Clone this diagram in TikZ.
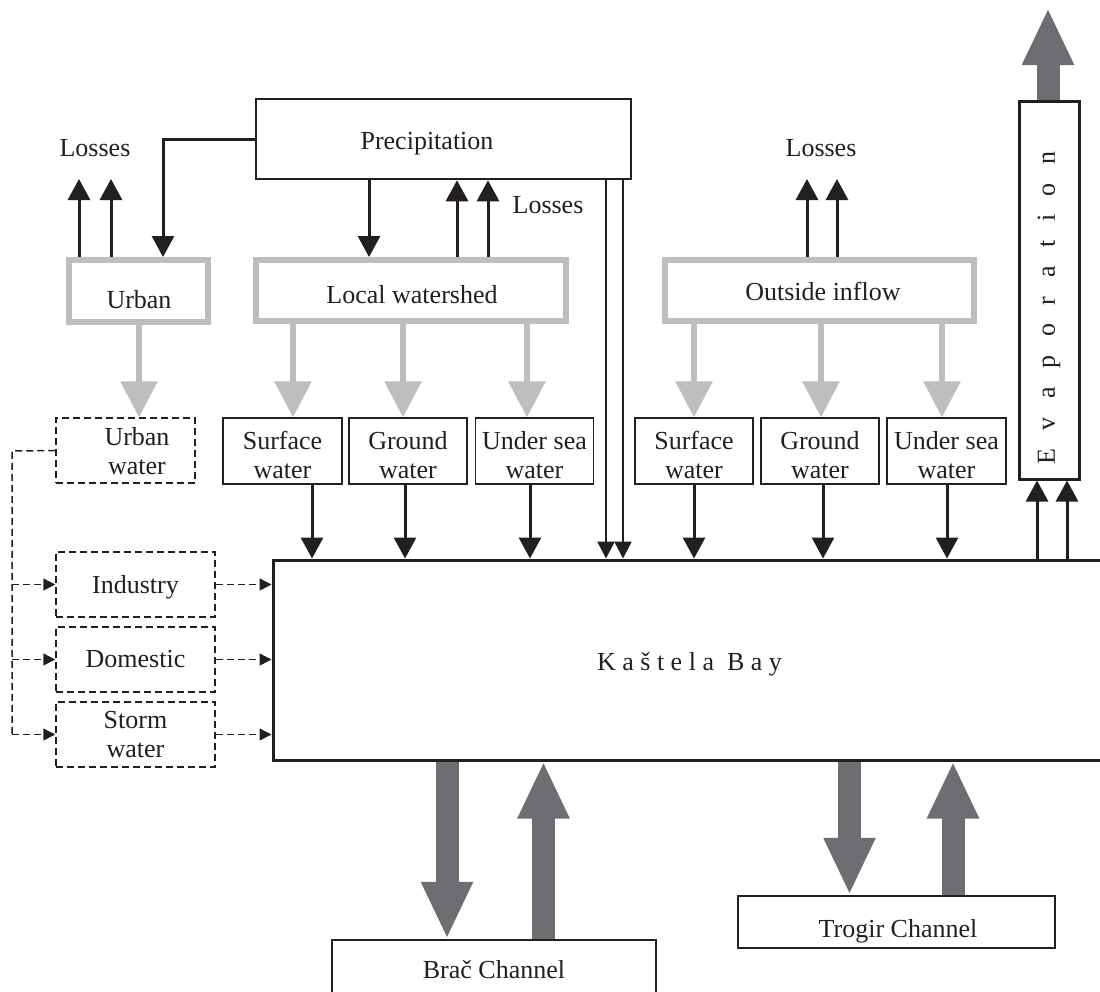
\documentclass[tikz,border=0pt]{standalone}
\usepackage{fontspec}
\setmainfont{Liberation Serif}
\usetikzlibrary{arrows.meta}
\definecolor{lgray}{HTML}{BCBEC0}
\definecolor{dgray}{HTML}{6D6E71}
\definecolor{ink}{HTML}{231F20}
\newcommand\evsp{\hspace{18.6pt}}
\newcommand\kbsp{\hspace{6.5pt}}
\begin{document}
\begin{tikzpicture}[x=1pt,y=-1pt,font=\fontsize{26}{29}\selectfont,text=ink,
  blkbox/.style={draw=ink,line width=2.5pt,inner sep=0pt,fill=white},
  graybox/.style={draw=lgray,line width=6pt,inner sep=0pt},
  thinbox/.style={draw=ink,line width=1.3pt,inner sep=0pt,align=center,minimum width=118pt,minimum height=66pt,text height=55pt,text depth=0pt},
  dbox/.style={draw=ink,line width=1.5pt,dash pattern=on 7pt off 4pt,inner sep=0pt,align=center,minimum width=159pt,minimum height=65pt},
  barr/.style={draw=ink,line width=3pt,-{Triangle[width=22pt,length=21pt]}},
  narr/.style={draw=ink,line width=2.5pt,-{Triangle[width=17pt,length=17pt]}},
  garr/.style={draw=lgray,line width=6pt,-{Triangle[width=36pt,length=36pt]}},
  bigarr/.style={draw=dgray,line width=23pt,-{Triangle[width=48pt,length=57pt]}},
  darr/.style={draw=ink,line width=1.5pt,dash pattern=on 7pt off 4pt,-{Triangle[width=12pt,length=12pt]}},
  dline/.style={draw=ink,line width=1.5pt,dash pattern=on 7pt off 4pt},
  lbl/.style={inner sep=0pt}]
\useasboundingbox (0,0) rectangle (1100,991);
\fill[white] (0,0) rectangle (1100,991);

% top boxes
\node[blkbox,minimum width=375pt,minimum height=80pt] (prec) at (443.5,139) {};
\node[lbl,text depth=0pt] (prectxt) at (427,140.5) {Precipitation};
\node[graybox,minimum width=139pt,minimum height=62pt] (urban) at (138,291) {};
\node[lbl] (urbantxt) at (139,299.5) {Urban};
\node[graybox,minimum width=310pt,minimum height=61pt] (lw) at (411,290.5) {};
\node[lbl] (lwtxt) at (412,295) {Local watershed};
\node[graybox,minimum width=309pt,minimum height=61pt] (oi) at (819.5,290.5) {};
\node[lbl,text depth=0pt] (oitxt) at (823,291) {Outside inflow};

% losses labels
\node[lbl] (los1) at (95,148) {Losses};
\node[lbl] (los2) at (548,205) {Losses};
\node[lbl] (los3) at (821,148) {Losses};
\coordinate (u1) at (79,179);
\coordinate (u2) at (111,179);
\coordinate (o1) at (807,179);
\coordinate (o2) at (837,179);

% evaporation
\node[blkbox,line width=3pt,minimum width=60pt,minimum height=378pt] (evap) at (1049,290) {};
\node[lbl,rotate=90] (evtxt) at (1049,308) {E\evsp v\evsp a\evsp p\evsp o\evsp r\evsp a\evsp t\evsp i\evsp o\evsp n};
\coordinate (evtop) at (1048,8);

% middle row
\node[dbox,minimum width=139pt] (uw) at (125.5,450.5) {};
\node[lbl,align=center] (uwtxt) at (137,451) {Urban\\water};
\node[thinbox,minimum width=119pt] (sw1) at (282.5,451) {Surface\\water};
\node[thinbox] (gw1) at (408,451) {Ground\\water};
\node[thinbox] (us1) at (534.5,451) {Under sea\\water};
\node[thinbox] (sw2) at (694,451) {Surface\\water};
\node[thinbox] (gw2) at (820,451) {Ground\\water};
\node[thinbox,minimum width=119pt] (us2) at (946.5,451) {Under sea\\water};

% left dashed boxes
\node[dbox,text depth=0pt] (ind) at (135.5,584.5) {Industry};
\node[dbox] (dom) at (135.5,659.5) {Domestic};
\node[dbox] (stm) at (135.5,734.5) {Storm\\water};
\coordinate (bus) at (12,451);

% bay
\node[draw=ink,line width=3pt,inner sep=0pt,minimum width=831pt,minimum height=200pt] (kb) at (688.5,660) {};
\node[lbl,text depth=0pt] (kbtxt) at (689.5,661)
  {K\kbsp a\kbsp š\kbsp t\kbsp e\kbsp l\kbsp a\hspace{13pt}B\kbsp a\kbsp y};

% channels
\node[blkbox,minimum width=324pt,minimum height=60pt] (brac) at (494,970) {Brač Channel};
\node[blkbox,minimum width=317pt,minimum height=52pt] (trog) at (896.5,922) {};
\node[lbl,text depth=0pt] (trogtxt) at (898,928) {Trogir Channel};

% precipitation connectors
\draw[barr] (prec.west) -| (urban.north -| 163,0);
\draw[barr] (prec.south -| 369,0) -- (lw.north -| 369,0);
\draw[barr] (lw.north -| 457,0) -- (prec.south -| 457,0);
\draw[barr] (lw.north -| 488,0) -- (prec.south -| 488,0);
\draw[narr] (prec.south -| 606,0) -- (kb.north -| 606,0);
\draw[narr] (prec.south -| 623,0) -- (kb.north -| 623,0);

% losses
\draw[barr] (urban.north -| u1) -- (u1);
\draw[barr] (urban.north -| u2) -- (u2);
\draw[barr] (oi.north -| o1) -- (o1);
\draw[barr] (oi.north -| o2) -- (o2);

% gray arrows
\draw[garr] (urban.south -| 139,0) -- (uw.north -| 139,0);
\draw[garr] (lw.south -| 293,0) -- (sw1.north -| 293,0);
\draw[garr] (lw.south -| 403,0) -- (gw1.north -| 403,0);
\draw[garr] (lw.south -| 527,0) -- (us1.north -| 527,0);
\draw[garr] (oi.south -| 694,0) -- (sw2.north -| 694,0);
\draw[garr] (oi.south -| 821,0) -- (gw2.north -| 821,0);
\draw[garr] (oi.south -| 942,0) -- (us2.north -| 942,0);

% into bay
\draw[barr] (sw1.south -| 312,0) -- (kb.north -| 312,0);
\draw[barr] (gw1.south -| 405,0) -- (kb.north -| 405,0);
\draw[barr] (us1.south -| 530,0) -- (kb.north -| 530,0);
\draw[barr] (sw2.south -| 694,0) -- (kb.north -| 694,0);
\draw[barr] (gw2.south -| 823,0) -- (kb.north -| 823,0);
\draw[barr] (us2.south -| 947,0) -- (kb.north -| 947,0);

% to evaporation
\draw[barr] (kb.north -| 1037,0) -- (evap.south -| 1037,0);
\draw[barr] (kb.north -| 1067,0) -- (evap.south -| 1067,0);
\draw[bigarr] (evap.north -| evtop) -- (evtop);

% dashed urban water distribution
\draw[dline] (uw.west) -- (bus) -- (bus |- stm.west);
\draw[darr] (bus |- stm.west) -- (stm.west);
\draw[darr] (bus |- ind.west) -- (ind.west);
\draw[darr] (bus |- dom.west) -- (dom.west);
\draw[darr] (ind.east) -- (kb.west |- ind.east);
\draw[darr] (dom.east) -- (kb.west |- dom.east);
\draw[darr] (stm.east) -- (kb.west |- stm.east);

% exchange with channels
\draw[bigarr] (kb.south -| 447,0) -- (brac.north -| 447,0);
\draw[bigarr] (brac.north -| 543.5,0) -- (kb.south -| 543.5,0);
\draw[bigarr] (kb.south -| 849.5,0) -- (trog.north -| 849.5,0);
\draw[bigarr] (trog.north -| 953,0) -- (kb.south -| 953,0);
\end{tikzpicture}
\end{document}
